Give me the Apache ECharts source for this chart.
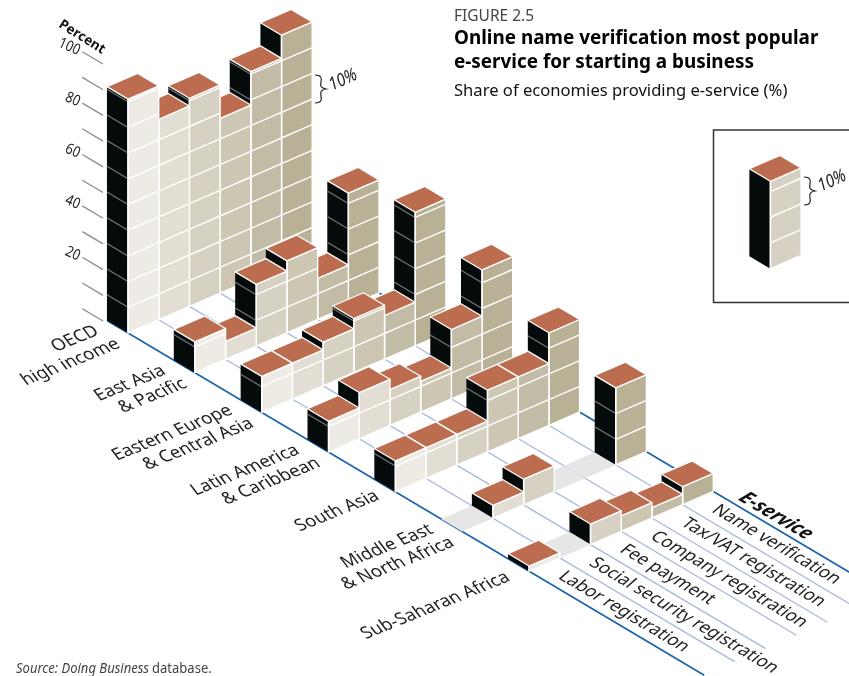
<!DOCTYPE html>
<html>
<head>
<meta charset="utf-8">
<style>html,body{margin:0;padding:0;background:#fff;overflow:hidden}#chart{width:849px;height:676px}</style>
<script src="https://cdn.jsdelivr.net/npm/echarts@6/dist/echarts.min.js"></script>
</head>
<body>
<div id="chart"></div>
<script>
// categories
var regions = [['OECD', 'high income'], ['East Asia', '& Pacific'], ['Eastern Europe', '& Central Asia'], ['Latin America', '& Caribbean'], ['South Asia'], ['Middle East', '& North Africa'], ['Sub-Saharan Africa']];
var services = ['Labor registration', 'Social security registration', 'Fee payment', 'Company registration', 'Tax/VAT registration', 'Name verification'];
var percentTicks = [100, 90, 80, 70, 60, 50, 40, 30, 20, 10, 0];
var percentLabels = [100, 80, 60, 40, 20];

// share of economies, one value per service, front (labor) to back (name)
var oecd = [91, 78, 81, 68, 81, 90];
var eastAsia = [12, 7, 24, 28, 16, 44];
var easternEurope = [14, 14, 17, 21, 17, 52];
var latinAmerica = [12, 18, 14, 12, 27, 45];
var southAsia = [12, 12, 12, 24, 24, 36];
var middleEast = [0, 5, 10, 0, 0, 30];
var subSaharan = [2, 0, 8, 6, 4, 7];
var rows = [oecd, eastAsia, easternEurope, latinAmerica, southAsia, middleEast, subSaharan];
var insetValue = 34;

// face colours, front service to back service
var sideColors = ['#eeebe4', '#e2ded3', '#d6d1c2', '#ccc6b3', '#c2bba5', '#b8b196'];
var topColor = '#bc6c4f';
var blackColor = '#050a0b';
var fontName = '"Noto Sans", "Open Sans", sans-serif';

// oblique projection: region step and service step are sheared into the x/y axes
var regionPx = 66.85, percentPx = 2.57;
var serviceShift = 30.7 / regionPx;   // x axis units per service
var regionDrop = 39.7 / percentPx;    // y axis units per region
var serviceRise = 13.3 / percentPx;   // y axis units per service
var barDepth = 0.315;                 // bar size along the region axis
var floorEnd = 8.62;

function project(api, r, s, v) {
	return api.coord([r + s * serviceShift, v - r * regionDrop + s * serviceRise]);
}

function poly(points, fill, stroke, width, z) {
	return {
		type: 'polygon',
		z2: z || 0,
		shape: {points: points},
		style: {fill: fill, stroke: stroke || null, lineWidth: width || 0, lineJoin: 'round'}
	};
}

function seg(a, b, color, width) {
	return {
		type: 'line',
		shape: {x1: a[0], y1: a[1], x2: b[0], y2: b[1]},
		style: {stroke: color, lineWidth: width}
	};
}

// one bar: left face, right face with the 10% lines, then the top
function renderBar(params, api) {
	var r = api.value(0), s = api.value(1), v = api.value(2), colorIndex = api.value(3);
	var showBand = api.value(4);
	var p = function (dr, ds, h) { return project(api, r + dr, s + ds, h); };
	if (v === 0) {
		return {
			type: 'group',
			children: [poly([p(0, 0, 0), p(0, 1, 0), p(-barDepth, 1, 0), p(-barDepth, 0, 0)], '#e6e6e6')]
		};
	}
	var children = [
		poly([p(-barDepth, 0, 0), p(0, 0, 0), p(0, 0, v), p(-barDepth, 0, v)], blackColor),
		poly([p(0, 0, 0), p(0, 1, 0), p(0, 1, v), p(0, 0, v)], sideColors[colorIndex], '#fff', 1.4)
	];
	for (var h = 10; h < v; h += 10) {
		children.push(seg(p(0, 0, h), p(0, 1, h), '#fff', 1.4));
		if (showBand) {
			children.push(seg(p(-barDepth, 0, h), p(0, 0, h), '#75787a', 1.2));
		}
	}
	children.push(seg(p(0, 0, 0), p(0, 0, v), '#fff', 1.4));
	children.push(poly([p(-barDepth, 0, v), p(0, 0, v), p(0, 1, v), p(-barDepth, 1, v)], topColor, '#fff', 1.3));
	return {type: 'group', children: children};
}

function renderFloor(params, api) {
	var s = api.value(0);
	var dark = s === 0 || s === services.length;
	return seg(project(api, -barDepth, s, 0), project(api, floorEnd, s, 0), dark ? '#1a62ab' : '#a9b8e0', dark ? 1.6 : 1.3);
}

function renderTick(params, api) {
	var v = api.value(0);
	return seg(project(api, -0.642, -0.09, v), project(api, -0.332, -0.09, v), '#8b8b8b', 1.3);
}

function renderPercentLabel(params, api) {
	var v = api.value(0);
	var a = project(api, -0.642, -0.09, v);
	return {
		type: 'text',
		x: a[0] - 3,
		y: a[1] - 0.5,
		rotation: -24 * Math.PI / 180,
		scaleX: 0.85,
		style: {text: String(v), align: 'right', verticalAlign: 'middle', font: '15px ' + fontName, fill: '#222'}
	};
}

function renderRegionLabel(params, api) {
	var r = api.value(0);
	var lines = regions[r];
	var base = project(api, r, 0, 0);
	var offs = lines.length > 1 ? [[-31, -3], [-10, 10]] : (r === 4 ? [[-18, 3]] : [[-21, 5]]);
	return {
		type: 'group',
		children: lines.map(function (line, i) {
			return {
				type: 'text',
				x: base[0] + offs[i][0],
				y: base[1] + offs[i][1],
				rotation: 22 * Math.PI / 180,
				skewX: 15 * Math.PI / 180,
				style: {text: line, align: 'right', verticalAlign: 'middle', font: '17.6px ' + fontName, fill: '#222'}
			};
		})
	};
}

function renderServiceLabel(params, api) {
	var s = api.value(0);
	var a = project(api, 6.25, s + 0.5, 0);
	return {
		type: 'text',
		x: a[0],
		y: a[1],
		rotation: -30.6 * Math.PI / 180,
		skewX: -18 * Math.PI / 180,
		style: {text: services[s], align: 'left', verticalAlign: 'middle', font: '17.3px ' + fontName, fill: '#222'}
	};
}

function braceAt(x, y) {
	return {
		type: 'path',
		shape: {
			pathData: 'M0 0 C6 0 7 3 6 7 C5 11 6 13 11 14 C6 15 5 17 6 21 C7 25 6 28 0 28',
			x: x, y: y, width: 11, height: 28, layout: 'cover'
		},
		style: {fill: 'none', stroke: '#222', lineWidth: 1.2}
	};
}

var option = {
	animation: false,
	grid: {left: 0, right: 0, top: 0, bottom: 0, containLabel: false},
	xAxis: {type: 'value', show: false, min: -128 / regionPx, max: (849 - 128) / regionPx},
	yAxis: {type: 'value', show: false, min: -(676 - 333) / percentPx, max: 333 / percentPx},
	series: [],
	graphic: [
		{type: 'text', x: 454, y: 17, style: {text: 'FIGURE 2.5', font: '15.5px ' + fontName, fill: '#444', verticalAlign: 'middle'}},
		{type: 'text', x: 454, y: 39, style: {text: 'Online name verification most popular', font: 'bold 18.9px ' + fontName, fill: '#000', verticalAlign: 'middle'}},
		{type: 'text', x: 454, y: 63, style: {text: 'e-service for starting a business', font: 'bold 18.9px ' + fontName, fill: '#000', verticalAlign: 'middle'}},
		{type: 'text', x: 454, y: 91, style: {text: 'Share of economies providing e-service (%)', font: '16.6px ' + fontName, fill: '#111', verticalAlign: 'middle'}},
		{type: 'text', x: 16, y: 669, scaleX: 0.93, style: {
			rich: {
				i: {font: 'italic 14px ' + fontName, fill: '#444'},
				n: {font: '14px ' + fontName, fill: '#444'}
			},
			text: '{i|Source: Doing Business} {n|database.}',
			verticalAlign: 'middle'
		}},
		{type: 'rect', z: 1, shape: {x: 713.5, y: 130, width: 140, height: 172.5}, style: {fill: 'none', stroke: '#333', lineWidth: 1.5}},
		{type: 'text', x: 82, y: 37, rotation: -32 * Math.PI / 180, style: {text: 'Percent', align: 'center', verticalAlign: 'middle', font: 'bold 13.5px ' + fontName, fill: '#111'}},
		{type: 'text', x: 776, y: 516, rotation: -30.6 * Math.PI / 180, skewX: -18 * Math.PI / 180, style: {text: 'E-service', align: 'center', verticalAlign: 'middle', font: 'italic bold 19px ' + fontName, fill: '#111'}},
		{type: 'text', x: 343, y: 80, rotation: 25 * Math.PI / 180, scaleX: 0.85, style: {text: '10%', align: 'center', verticalAlign: 'middle', font: 'italic 18px ' + fontName, fill: '#222'}},
		{type: 'text', x: 832, y: 181, rotation: 25 * Math.PI / 180, scaleX: 0.85, style: {text: '10%', align: 'center', verticalAlign: 'middle', font: 'italic 18px ' + fontName, fill: '#222'}}
	]
};

// floor lines first so the bars sit on them
var floorData = [];
for (var i = 0; i <= services.length; i++) floorData.push([i]);
option.series.push({type: 'custom', coordinateSystem: 'cartesian2d', data: floorData, renderItem: renderFloor, silent: true});
option.series.push({type: 'custom', coordinateSystem: 'cartesian2d', data: percentTicks.map(function (t) { return [t]; }), renderItem: renderTick, silent: true});
option.series.push({type: 'custom', coordinateSystem: 'cartesian2d', data: percentLabels.map(function (t) { return [t]; }), renderItem: renderPercentLabel, silent: true});

// back region first, and inside a region the back service first
rows.forEach(function (row, r) {
	var data = [];
	for (var s = row.length - 1; s >= 0; s--) data.push([r, s, row[s], s, 1]);
	option.series.push({type: 'custom', coordinateSystem: 'cartesian2d', data: data, renderItem: renderBar, silent: true});
});

option.series.push({type: 'custom', coordinateSystem: 'cartesian2d', data: regions.map(function (x, r) { return [r]; }), renderItem: renderRegionLabel, silent: true});
option.series.push({type: 'custom', coordinateSystem: 'cartesian2d', data: services.map(function (x, s) { return [s]; }), renderItem: renderServiceLabel, silent: true});

// inset key bar, no grey bands on the black face
option.series.push({type: 'custom', coordinateSystem: 'cartesian2d', data: [[3.116, 14.14, insetValue, 2, 0]], renderItem: renderBar, silent: true});

// 10% braces
option.series.push({
	type: 'custom', coordinateSystem: 'cartesian2d', silent: true, data: [[0]],
	renderItem: function (params, api) {
		return {type: 'group', children: [braceAt(315, 75), braceAt(804, 177)]};
	}
});

var myChart = echarts.init(document.getElementById('chart'));
myChart.setOption(option);
</script>
</body>
</html>
